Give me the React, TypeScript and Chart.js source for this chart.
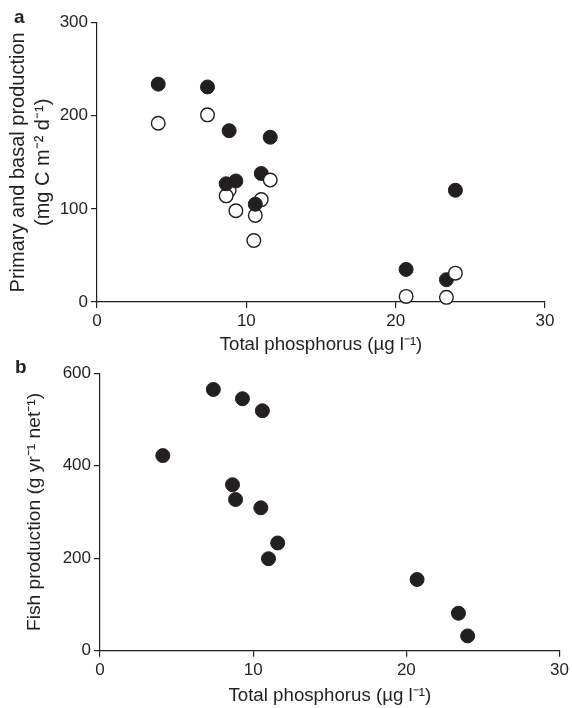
import { useEffect, useRef } from "react";
import { Chart, registerables } from "chart.js";

Chart.register(...registerables);

// ---- Data (lakes; order chosen to match the overlap order in the figure) ----
const totalPhosphorus = [4.1, 7.4, 8.85, 8.65, 9.3, 10.5, 11.0, 10.6, 11.6, 20.7, 23.4, 24.0];
// filled circles (panel a)
const primaryProduction = [234, 231, 184, 127, 130, null, 138, 105, 177, 35, 24, 120];
// open circles (panel a)
const basalProduction = [192, 201, 120, 114, 98, 66, 110, 93, 131, 6, 5, 31];
// panel b
const fishProduction = [422, 565, 327, 359, 545, 309, 199, 519, 233, 154, 81, 32];

const xTicks = [0, 10, 20, 30];
const yTicksA = [0, 100, 200, 300];
const yTicksB = [0, 200, 400, 600];

const xTitle = "Total phosphorus (µg l⁻¹)";
const yTitleA = ["Primary and basal production", "(mg C m⁻² d⁻¹)"];
const yTitleB = "Fish production (g yr⁻¹ net⁻¹)";

const INK = "#231f20";
const FAMILY = '"Liberation Sans", Arial, Helvetica, sans-serif';

function panelLabel(letter: string, x: number, y: number) {
  return {
    id: "panelLabel" + letter,
    afterDraw(chart: any) {
      const ctx = chart.ctx;
      ctx.save();
      ctx.font = `bold 19px ${FAMILY}`;
      ctx.fillStyle = INK;
      ctx.textBaseline = "alphabetic";
      ctx.textAlign = "left";
      ctx.fillText(letter, x, y);
      ctx.restore();
    },
  };
}

function axisOptions(
  ticks: number[],
  title: string | string[],
  titleFont: any,
  titlePadding: any,
  fit: (s: any) => void
) {
  return {
    type: "linear",
    min: ticks[0],
    max: ticks[ticks.length - 1],
    afterBuildTicks: (s: any) => {
      s.ticks = ticks.map((v) => ({ value: v }));
    },
    afterFit: fit,
    ticks: {
      color: INK,
      font: { family: FAMILY, size: 17 },
      padding: 3,
      maxRotation: 0,
      autoSkip: false,
    },
    grid: {
      drawOnChartArea: false,
      drawTicks: true,
      tickLength: 6,
      color: INK,
      lineWidth: 1.2,
    },
    border: { display: true, color: INK, width: 1.2 },
    title: {
      display: true,
      text: title,
      color: INK,
      font: titleFont,
      padding: titlePadding,
    },
  };
}

function buildPanelA() {
  const points: { x: number; y: number }[] = [];
  const bg: string[] = [];
  const radius: number[] = [];
  const bw: number[] = [];
  totalPhosphorus.forEach((tp, i) => {
    const open = basalProduction[i];
    if (open != null) {
      points.push({ x: tp, y: open });
      bg.push("#ffffff");
      radius.push(6.8);
      bw.push(1.4);
    }
    const filled = primaryProduction[i];
    if (filled != null) {
      points.push({ x: tp, y: filled });
      bg.push(INK);
      radius.push(7);
      bw.push(1);
    }
  });
  return {
    type: "scatter",
    data: {
      datasets: [
        {
          label: "Primary (filled) and basal (open) production",
          data: points,
          pointBackgroundColor: bg,
          pointBorderColor: INK,
          pointBorderWidth: bw,
          pointRadius: radius,
          pointHoverRadius: radius,
          clip: false,
        },
      ],
    },
    options: {
      animation: false,
      responsive: false,
      maintainAspectRatio: false,
      events: [],
      layout: { padding: { top: 22.7, right: 27, bottom: 0, left: 0 } },
      plugins: { legend: { display: false }, tooltip: { enabled: false } },
      scales: {
        x: axisOptions(
          xTicks,
          xTitle,
          { family: FAMILY, size: 18.7, lineHeight: 1.2 },
          { top: 0, bottom: 8.5 },
          (s: any) => {
            s.height = 63;
          }
        ),
        y: axisOptions(
          yTicksA,
          yTitleA,
          { family: FAMILY, size: 20, lineHeight: "25px" },
          { top: 5.5, bottom: 0 },
          (s: any) => {
            s.width = 97;
          }
        ),
      },
    },
    plugins: [panelLabel("a", 14, 22.7)],
  };
}

function buildPanelB() {
  const points = totalPhosphorus.map((tp, i) => ({ x: tp, y: fishProduction[i] }));
  return {
    type: "scatter",
    data: {
      datasets: [
        {
          label: "Fish production",
          data: points,
          pointBackgroundColor: INK,
          pointBorderColor: INK,
          pointBorderWidth: 1,
          pointRadius: 7,
          pointHoverRadius: 7,
          clip: false,
        },
      ],
    },
    options: {
      animation: false,
      responsive: false,
      maintainAspectRatio: false,
      events: [],
      layout: { padding: { top: 23.3, right: 12, bottom: 0, left: 0 } },
      plugins: { legend: { display: false }, tooltip: { enabled: false } },
      scales: {
        x: axisOptions(
          xTicks,
          xTitle,
          { family: FAMILY, size: 18.7, lineHeight: 1.2 },
          { top: 0, bottom: 1.2 },
          (s: any) => {
            s.height = 57.3;
          }
        ),
        y: axisOptions(
          yTicksB,
          yTitleB,
          { family: FAMILY, size: 19.2, lineHeight: 1.2 },
          { top: 23.3, bottom: 0 },
          (s: any) => {
            s.width = 100;
          }
        ),
      },
    },
    plugins: [panelLabel("b", 15, 23)],
  };
}

export default function App() {
  const refA = useRef<HTMLCanvasElement>(null);
  const refB = useRef<HTMLCanvasElement>(null);

  useEffect(() => {
    const a = new Chart(refA.current as HTMLCanvasElement, buildPanelA() as any);
    const b = new Chart(refB.current as HTMLCanvasElement, buildPanelB() as any);
    return () => {
      a.destroy();
      b.destroy();
    };
  }, []);

  return (
    <div
      style={{
        position: "absolute",
        left: 0,
        top: 0,
        width: 572,
        height: 708,
        background: "#ffffff",
      }}
    >
      <canvas
        ref={refA}
        width={572}
        height={365}
        style={{ position: "absolute", left: 0, top: 0, width: 572, height: 365 }}
      />
      <canvas
        ref={refB}
        width={572}
        height={358}
        style={{ position: "absolute", left: 0, top: 350, width: 572, height: 358 }}
      />
    </div>
  );
}
